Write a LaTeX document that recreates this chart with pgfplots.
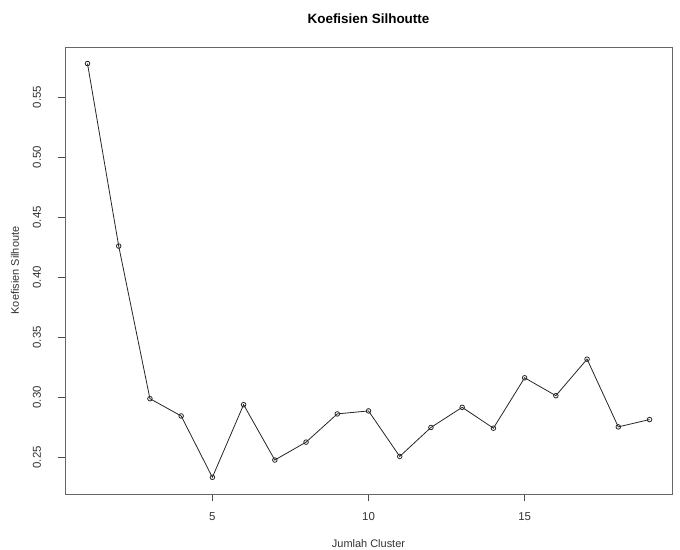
\documentclass[border=0pt]{standalone}
\usepackage{pgfplots}
\pgfplotsset{compat=1.18}
\usepackage{fontspec}
\setmainfont{Liberation Sans}
\begin{document}
\begin{tikzpicture}
\begin{axis}[
  at={(65bp,56bp)}, anchor=south west,
  width=607bp, height=447bp, scale only axis,
  xmin=0.28, xmax=19.72, ymin=0.2195, ymax=0.5918,
  xtick={5,10,15}, ytick={0.25,0.30,...,0.56},
  y tick label style={/pgf/number format/fixed, /pgf/number format/fixed zerofill, /pgf/number format/precision=2},
  /pgf/number format/assume math mode=true,
  axis x line*=bottom, axis y line*=left,
  xtick align=outside, ytick align=outside,
  major tick length=7bp,
  axis line style={-, black!60, line width=0.8bp},
  major tick style={black!70, line width=1bp},
  extra description/.code={\draw[black!60, line width=0.8bp] (rel axis cs:0,0) rectangle (rel axis cs:1,1);},
  tick label style={font=\fontsize{11.5}{13}\selectfont, black!80},
  xticklabel style={anchor=center, yshift=-16bp},
  yticklabel style={rotate=90, anchor=center, yshift=21bp},
  title={\textbf{Koefisien Silhoutte}},
  title style={at={(axis description cs:0.5,1.051)}, anchor=center, font=\fontsize{13.5}{15}\selectfont},
  xlabel={Jumlah Cluster},
  ylabel={Koefisien Silhoute},
  xlabel style={at={(axis description cs:0.5,-0.1119)}, anchor=center, font=\fontsize{11}{13}\selectfont, black!80},
  ylabel style={at={(axis description cs:-0.0824,0.5)}, anchor=center, font=\fontsize{11}{13}\selectfont, black!80},
]
\addplot[black!85, line width=0.8bp, mark=o, mark size=2.3bp, mark options={line width=0.8bp, fill=white}]
coordinates {(1,0.578)(2,0.426)(3,0.2989)(4,0.2845)(5,0.2334)(6,0.2939)(7,0.2478)(8,0.2627)(9,0.2862)(10,0.2887)(11,0.2508)(12,0.2749)(13,0.2917)(14,0.2743)(15,0.3163)(16,0.3014)(17,0.3318)(18,0.2754)(19,0.2815)};
\end{axis}
\pgfresetboundingbox
\path (0,0) rectangle (680bp,550bp);
\end{tikzpicture}
\end{document}
